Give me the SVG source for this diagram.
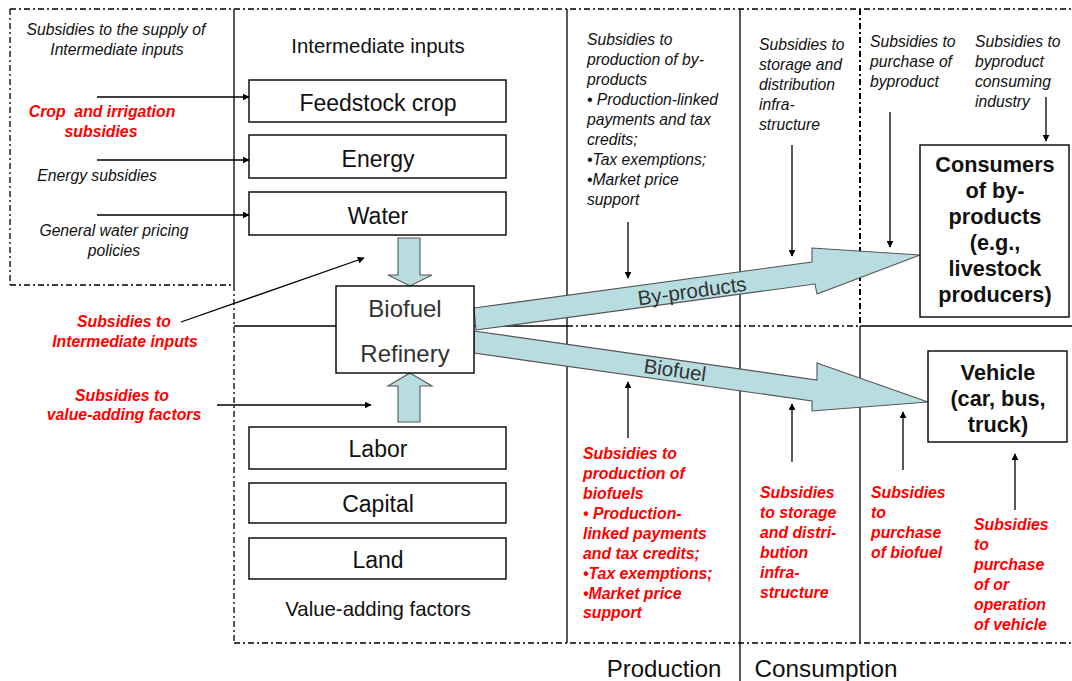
<svg xmlns="http://www.w3.org/2000/svg" width="1072" height="681" viewBox="0 0 1072 681">
<style>
.bg{fill:#fff}
.ln{stroke:#000;stroke-width:1.3;fill:none}
.dl{stroke:#000;stroke-width:1.3;fill:none;stroke-dasharray:6 3 2 3}
.box{fill:#fff;stroke:#000;stroke-width:1.4}
.ar{stroke:#000;stroke-width:1.3;fill:none;marker-end:url(#ah)}
.blk{fill:#b7dde0;stroke:#555;stroke-width:1.1}
.t{font-family:"Liberation Sans",Arial,sans-serif}
.si{font-family:"Liberation Sans",Arial,sans-serif;font-size:15.7px;font-style:italic;fill:#111}
.rs{font-family:"Liberation Sans",Arial,sans-serif;font-size:15.8px;font-style:italic;font-weight:bold;fill:#ff0000}
.bx{font-family:"Liberation Sans",Arial,sans-serif;font-size:23px;fill:#111;text-anchor:middle}
.hd{font-family:"Liberation Sans",Arial,sans-serif;font-size:20.4px;fill:#111;text-anchor:middle}
.bb{font-family:"Liberation Sans",Arial,sans-serif;font-size:21.7px;font-weight:bold;fill:#111;text-anchor:middle}
.mid{text-anchor:middle}
</style>
<defs>
<marker id="ah" viewBox="0 0 10 10" refX="9" refY="5" markerWidth="7" markerHeight="7" markerUnits="userSpaceOnUse" orient="auto">
<path d="M0,0 L10,5 L0,10 z" fill="#000"/>
</marker>
</defs>
<rect class="bg" x="0" y="0" width="1072" height="681"/>

<g id="frame">
<line class="dl" x1="10" y1="9" x2="1072" y2="9"/>
<line class="dl" x1="10" y1="9" x2="10" y2="285"/>
<line class="dl" x1="10" y1="285" x2="234" y2="285"/>
<line class="ln" x1="234" y1="9" x2="234" y2="285"/>
<line class="dl" x1="234" y1="285" x2="234" y2="643"/>
<line class="ln" x1="567" y1="9" x2="567" y2="643"/>
<line class="ln" x1="740" y1="9" x2="740" y2="681"/>
<line class="dl" x1="860" y1="9" x2="860" y2="326" style="stroke-width:2"/>
<line class="ln" x1="860" y1="326" x2="860" y2="643"/>
<line class="ln" x1="234" y1="326" x2="336" y2="326"/>
<line class="ln" x1="474" y1="326" x2="567" y2="326"/>
<line class="dl" x1="567" y1="326" x2="860" y2="326"/>
<line class="ln" x1="860" y1="326" x2="1072" y2="326"/>
<line class="dl" x1="234" y1="643" x2="1072" y2="643"/>
</g>

<g id="connectors">
<line class="ar" x1="97" y1="97" x2="249" y2="97"/>
<line class="ar" x1="97" y1="160" x2="249" y2="160"/>
<line class="ar" x1="97" y1="215" x2="249" y2="215"/>
<line class="ar" x1="181" y1="322" x2="364" y2="258"/>
<line class="ar" x1="217" y1="405" x2="371" y2="405"/>
<line class="ar" x1="628" y1="222" x2="628" y2="278"/>
<line class="ar" x1="792" y1="145" x2="792" y2="256"/>
<line class="ar" x1="890" y1="112" x2="890" y2="247"/>
<line class="ar" x1="1046" y1="97" x2="1046" y2="141"/>
<line class="ar" x1="628" y1="438" x2="628" y2="382"/>
<line class="ar" x1="792" y1="462" x2="792" y2="404"/>
<line class="ar" x1="903" y1="470" x2="903" y2="412"/>
<line class="ar" x1="1015" y1="510" x2="1015" y2="454"/>
<polygon class="blk" points="398,238 420,238 420,275 432,275 410,286 388,275 398,275"/>
<polygon class="blk" points="410,373 432,386 420,386 420,422 398,422 398,386 388,386"/>
<polygon class="blk" points="474,308 812,262 812,248 920,255 817,294 815,284 476,330"/>
<polygon class="blk" points="474,331 817,380 817,363 928,402 812,411 812,401 474,353"/>
<text class="t" x="0" y="0" font-size="20.5" fill="#333" text-anchor="middle" transform="translate(693,298) rotate(-7.8)">By-products</text>
<text class="t" x="0" y="0" font-size="20.5" fill="#333" text-anchor="middle" transform="translate(674,377) rotate(8)">Biofuel</text>
</g>

<g id="subsidy-labels-left">
<text class="si mid" x="116" y="35">Subsidies to the supply of</text>
<text class="si mid" x="117" y="55">Intermediate inputs</text>
<text class="rs mid" x="102" y="117" xml:space="preserve">Crop  and irrigation</text>
<text class="rs mid" x="101" y="137">subsidies</text>
<text class="si mid" x="97" y="181">Energy subsidies</text>
<text class="si mid" x="114" y="236">General water pricing</text>
<text class="si mid" x="114" y="256">policies</text>
<text class="rs mid" x="124" y="327">Subsidies to</text>
<text class="rs mid" x="125" y="347">Intermediate inputs</text>
<text class="rs mid" x="122" y="401">Subsidies to</text>
<text class="rs mid" x="124" y="420">value-adding factors</text>
</g>

<g id="intermediate-inputs">
<text class="hd" x="378" y="53">Intermediate inputs</text>
</g>
<g id="feedstock-crop">
<rect class="box" x="249" y="80" width="257" height="42"/>
<text class="bx" x="378" y="111">Feedstock crop</text>
</g>
<g id="energy">
<rect class="box" x="249" y="135" width="257" height="43"/>
<text class="bx" x="378" y="167">Energy</text>
</g>
<g id="water">
<rect class="box" x="249" y="192" width="257" height="43"/>
<text class="bx" x="378" y="224">Water</text>
</g>
<g id="refinery">
<rect class="box" x="336" y="286" width="138" height="87"/>
<text class="bx" x="405" y="317" style="font-size:24px;fill:#333">Biofuel</text>
<text class="bx" x="405" y="362" style="font-size:24px;fill:#333">Refinery</text>
</g>
<g id="labor">
<rect class="box" x="249" y="427" width="257" height="42"/>
<text class="bx" x="378" y="457">Labor</text>
</g>
<g id="capital">
<rect class="box" x="249" y="483" width="257" height="40"/>
<text class="bx" x="378" y="512">Capital</text>
</g>
<g id="land">
<rect class="box" x="249" y="538" width="257" height="41"/>
<text class="bx" x="378" y="568">Land</text>
</g>
<g id="value-adding-factors">
<text class="hd" x="378" y="616">Value-adding factors</text>
</g>

<g id="byproduct-subsidies">
<text class="si" x="587" y="45">Subsidies to</text>
<text class="si" x="587" y="65">production of by-</text>
<text class="si" x="587" y="85">products</text>
<text class="si" x="587" y="105">• Production-linked</text>
<text class="si" x="587" y="125">payments and tax</text>
<text class="si" x="587" y="145">credits;</text>
<text class="si" x="587" y="165">•Tax exemptions;</text>
<text class="si" x="587" y="185">•Market price</text>
<text class="si" x="587" y="205">support</text>
<text class="si" x="759" y="50">Subsidies to</text>
<text class="si" x="759" y="70">storage and</text>
<text class="si" x="759" y="90">distribution</text>
<text class="si" x="759" y="110">infra-</text>
<text class="si" x="759" y="130">structure</text>
<text class="si" x="870" y="47">Subsidies to</text>
<text class="si" x="870" y="67">purchase of</text>
<text class="si" x="870" y="87">byproduct</text>
<text class="si" x="975" y="47">Subsidies to</text>
<text class="si" x="975" y="67">byproduct</text>
<text class="si" x="975" y="87">consuming</text>
<text class="si" x="975" y="107">industry</text>
</g>

<g id="consumers">
<rect class="box" x="920" y="145" width="149" height="172"/>
<text class="bb" x="995" y="172">Consumers</text>
<text class="bb" x="995" y="198">of by-</text>
<text class="bb" x="995" y="224">products</text>
<text class="bb" x="995" y="250">(e.g.,</text>
<text class="bb" x="995" y="276">livestock</text>
<text class="bb" x="995" y="302">producers)</text>
</g>
<g id="vehicle">
<rect class="box" x="928" y="351" width="139" height="91"/>
<text class="bb" x="998" y="380">Vehicle</text>
<text class="bb" x="998" y="406">(car, bus,</text>
<text class="bb" x="998" y="432">truck)</text>
</g>

<g id="biofuel-subsidies">
<text class="rs" x="583" y="459">Subsidies to</text>
<text class="rs" x="583" y="479">production of</text>
<text class="rs" x="583" y="499">biofuels</text>
<text class="rs" x="583" y="519">• Production-</text>
<text class="rs" x="583" y="539">linked payments</text>
<text class="rs" x="583" y="559">and tax credits;</text>
<text class="rs" x="583" y="579">•Tax exemptions;</text>
<text class="rs" x="583" y="599">•Market price</text>
<text class="rs" x="583" y="618">support</text>
<text class="rs" x="760" y="498">Subsidies</text>
<text class="rs" x="760" y="518">to storage</text>
<text class="rs" x="760" y="538">and distri-</text>
<text class="rs" x="760" y="558">bution</text>
<text class="rs" x="760" y="578">infra-</text>
<text class="rs" x="760" y="598">structure</text>
<text class="rs" x="871" y="498">Subsidies</text>
<text class="rs" x="871" y="518">to</text>
<text class="rs" x="871" y="538">purchase</text>
<text class="rs" x="871" y="558">of biofuel</text>
<text class="rs" x="974" y="530">Subsidies</text>
<text class="rs" x="974" y="550">to</text>
<text class="rs" x="974" y="570">purchase</text>
<text class="rs" x="974" y="590">of or</text>
<text class="rs" x="974" y="610">operation</text>
<text class="rs" x="974" y="630">of vehicle</text>
</g>

<g id="stage-labels">
<text class="t mid" x="664" y="677" font-size="24" fill="#111">Production</text>
<text class="t mid" x="826" y="677" font-size="24.3" fill="#111">Consumption</text>
</g>
</svg>
